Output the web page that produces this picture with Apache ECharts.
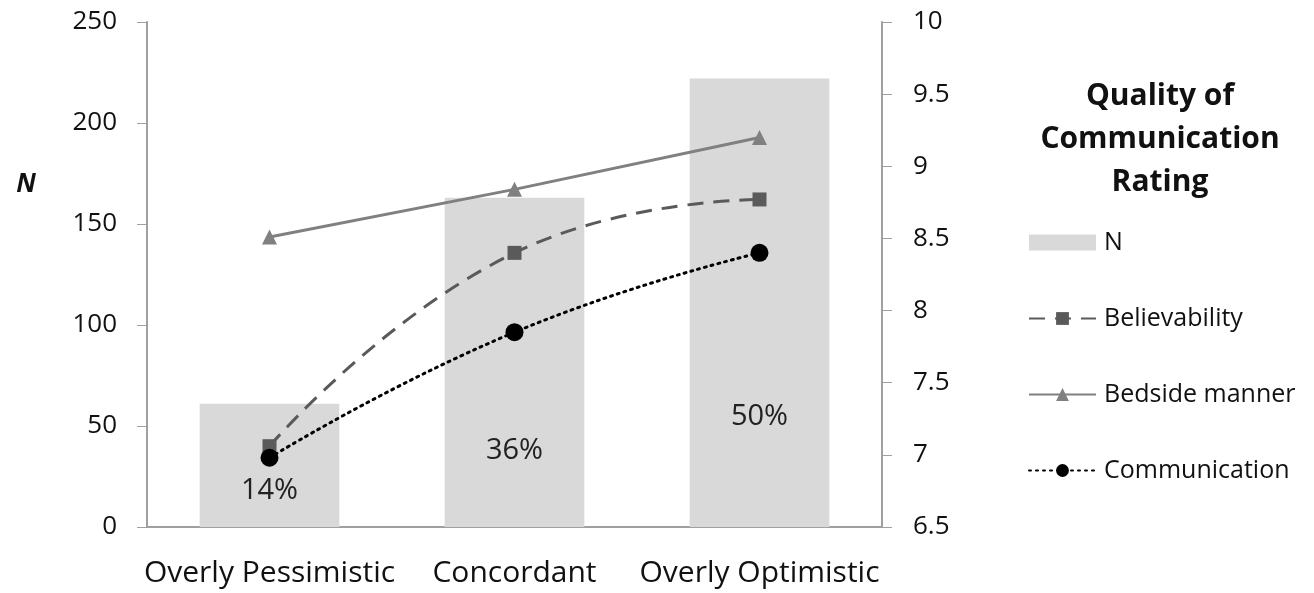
<!DOCTYPE html>
<html>
<head>
<meta charset="utf-8">
<script src="https://cdn.jsdelivr.net/npm/echarts@6/dist/echarts.min.js"></script>
<style>
html,body{margin:0;padding:0;background:#fff;}
#chart{width:1314px;height:593px;}
</style>
</head>
<body>
<div id="chart"></div>
<script>
var categories = ['Overly Pessimistic', 'Concordant', 'Overly Optimistic'];
var nValues = [61, 163, 222];
var pctLabels = ['14%', '36%', '50%'];
var believability = [7.06, 8.40, 8.77];
var bedsideManner = [8.51, 8.84, 9.20];
var communication = [6.98, 7.85, 8.40];
var leftTicks = [0, 250, 50];
var rightTicks = [6.5, 10, 0.5];

var FONT = '"Open Sans", "Liberation Sans", sans-serif';
var labelDist = [22, 62, 96];

var chart = echarts.init(document.getElementById('chart'));
var option = {
  animation: false,
  textStyle: { fontFamily: FONT },
  grid: { left: 147, right: 432, top: 22, bottom: 66, containLabel: false },
  legend: {
    orient: 'vertical',
    left: 1028,
    top: 230,
    padding: 0,
    itemWidth: 67,
    itemHeight: 16,
    itemGap: 51,
    textStyle: { fontFamily: FONT, fontSize: 25, color: '#111', padding: [0, 0, 0, 3] },
    data: [
      { name: 'N', icon: 'rect', itemStyle: { color: '#d9d9d9' } },
      { name: 'Believability' },
      { name: 'Bedside manner' },
      { name: 'Communication' }
    ]
  },
  graphic: [
    { type: 'text', x: 26, y: 185, style: { text: 'N', fontFamily: FONT, fontSize: 26, fontWeight: 'bold', fontStyle: 'italic', fill: '#111', align: 'center', verticalAlign: 'middle' } },
    { type: 'text', x: 1160, y: 75, style: { text: 'Quality of\nCommunication\nRating', fontFamily: FONT, fontSize: 30, fontWeight: 'bold', fill: '#111', align: 'center', verticalAlign: 'top', lineHeight: 43 } }
  ],
  xAxis: {
    type: 'category',
    data: categories,
    axisLine: { lineStyle: { color: '#a0a0a0', width: 2 } },
    axisTick: { show: false },
    axisLabel: { interval: 0, hideOverlap: false, fontFamily: FONT, fontSize: 30, color: '#111', margin: 31 }
  },
  yAxis: [
    {
      type: 'value', min: leftTicks[0], max: leftTicks[1], interval: leftTicks[2],
      position: 'left',
      axisLine: { show: true, lineStyle: { color: '#a0a0a0', width: 2 } },
      axisTick: { show: true, length: 10, lineStyle: { color: '#a0a0a0', width: 1 } },
      axisLabel: { fontFamily: FONT, fontSize: 26, color: '#111', margin: 30 },
      splitLine: { show: false }
    },
    {
      type: 'value', min: rightTicks[0], max: rightTicks[1], interval: rightTicks[2],
      position: 'right',
      axisLine: { show: true, lineStyle: { color: '#a0a0a0', width: 2 } },
      axisTick: { show: true, length: 10, lineStyle: { color: '#a0a0a0', width: 1 } },
      axisLabel: { fontFamily: FONT, fontSize: 26, color: '#111', margin: 31 },
      splitLine: { show: false }
    }
  ],
  series: [
    {
      name: 'N', type: 'bar', yAxisIndex: 0, barWidth: '57%',
      itemStyle: { color: '#d9d9d9' },
      data: nValues.map(function (v, i) {
        return {
          value: v,
          label: { show: true, position: 'insideBottom', distance: labelDist[i], formatter: pctLabels[i], fontFamily: FONT, fontSize: 29, color: '#222' }
        };
      })
    },
    {
      name: 'Believability', type: 'line', yAxisIndex: 1, smooth: 0.5,
      data: believability, symbol: 'rect', symbolSize: 14,
      lineStyle: { color: '#5a5a5a', width: 3, type: [16, 10] },
      itemStyle: { color: '#5a5a5a' }
    },
    {
      name: 'Bedside manner', type: 'line', yAxisIndex: 1, smooth: false,
      data: bedsideManner, symbol: 'triangle', symbolSize: 15,
      lineStyle: { color: '#808080', width: 3 },
      itemStyle: { color: '#808080' }
    },
    {
      name: 'Communication', type: 'line', yAxisIndex: 1, smooth: 0.5,
      data: communication, symbol: 'circle', symbolSize: 18,
      lineStyle: { color: '#000', width: 3, type: [2, 5], cap: 'round' },
      itemStyle: { color: '#000' }
    }
  ]
};
chart.setOption(option);
</script>
</body>
</html>
